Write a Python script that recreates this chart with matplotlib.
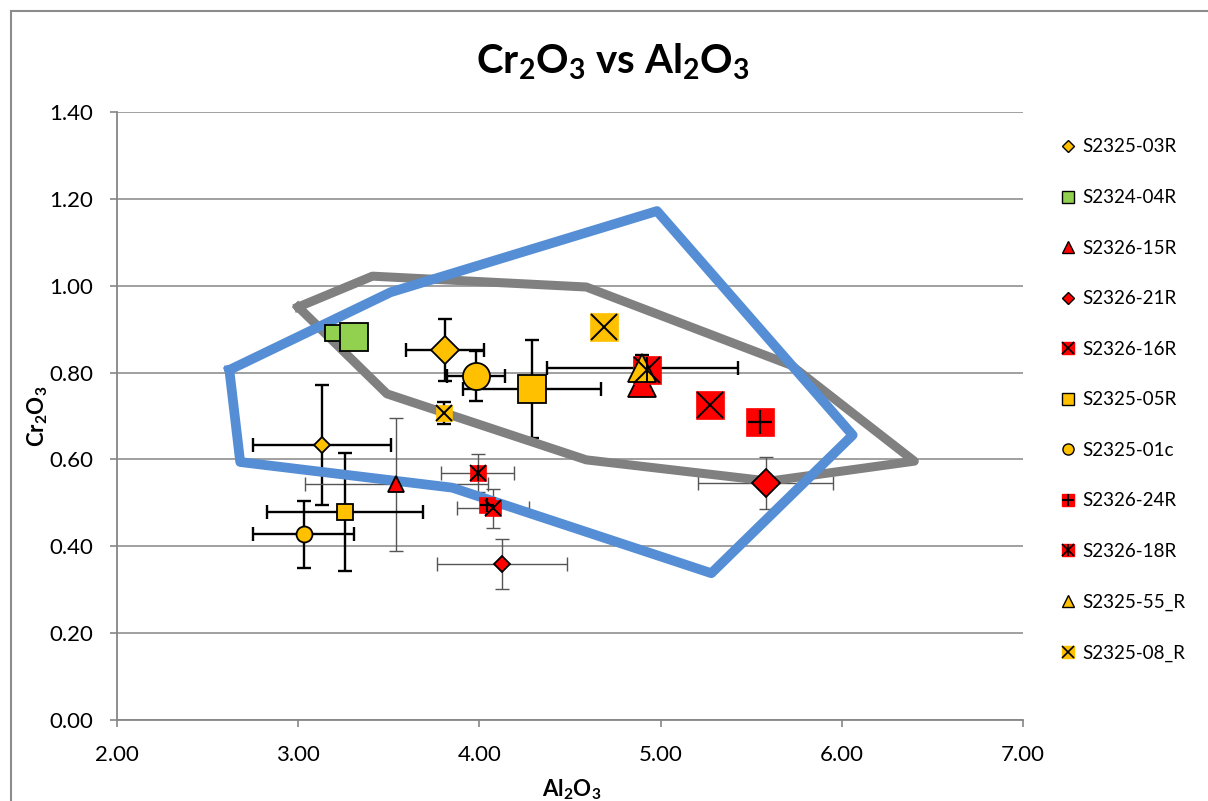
import numpy as np
import matplotlib
matplotlib.use('Agg')
import matplotlib.pyplot as plt
from matplotlib.lines import Line2D

plt.rcParams['font.family'] = ['Lato', 'DejaVu Sans']

series_names = ['S2325-03R', 'S2324-04R', 'S2326-15R', 'S2326-21R', 'S2326-16R',
                'S2325-05R', 'S2325-01c', 'S2326-24R', 'S2326-18R', 'S2325-55_R',
                'S2325-08_R']

# single analyses (small markers) with error bars
small_x = [3.13, 3.19, 3.54, 4.125, 4.075, 3.26, 3.03, 4.04, 3.99, np.nan, 3.805]
small_y = [0.633, 0.891, 0.543, 0.359, 0.488, 0.479, 0.428, 0.495, 0.569, np.nan, 0.707]
small_xerr = [0.38, 0.0, 0.505, 0.36, 0.20, 0.43, 0.28, 0.0, 0.20, 0.0, 0.0]
small_yerr = [0.138, 0.0, 0.153, 0.058, 0.045, 0.135, 0.077, 0.0, 0.044, 0.0, 0.026]

# second set (large markers)
big_x = [3.81, 3.31, 4.90, 5.58, 5.27, 4.29, 3.98, 5.55, 4.925, 4.90, 4.69]
big_y = [0.852, 0.882, 0.775, 0.546, 0.725, 0.762, 0.792, 0.686, 0.806, 0.811, 0.905]
big_xerr = [0.215, 0.0, 0.0, 0.373, 0.0, 0.383, 0.16, 0.0, 0.0, 0.525, 0.0]
big_yerr = [0.071, 0.0, 0.0, 0.060, 0.0, 0.113, 0.057, 0.0, 0.0, 0.03, 0.0]

# outline fields
blue_x = [2.62, 2.68, 3.85, 5.28, 6.06, 4.98, 3.51, 2.62]
blue_y = [0.806, 0.594, 0.535, 0.338, 0.656, 1.172, 0.985, 0.806]
gray_x = [3.00, 3.41, 4.59, 5.72, 6.40, 5.60, 4.59, 3.49, 3.00]
gray_y = [0.951, 1.022, 0.997, 0.817, 0.596, 0.550, 0.599, 0.751, 0.951]

yellow = '#FFC000'
green = '#92D050'
red = '#FF0000'
markers = ['D', 's', '^', 'D', 's', 's', 'o', 's', 's', '^', 's']
colors = [yellow, green, red, red, red, yellow, yellow, red, red, yellow, yellow]
overlays = [None, None, None, None, 'x', None, None, '+', '*', None, 'x']
thin_err = [False, False, True, True, True, False, False, True, True, False, False]


def size_for(marker, base):
    if marker == 'D':
        return base * 0.71
    if marker == '^':
        return base * 1.05
    return base


def draw_marker(ax, x, y, i, base, z):
    m = markers[i]
    c = colors[i]
    ms = size_for(m, base)
    if overlays[i] is None:
        ax.plot(x, y, ls='none', marker=m, ms=ms, mfc=c, mec='black', mew=1.3, zorder=z)
        return
    ax.plot(x, y, ls='none', marker='s', ms=ms, mfc=c, mec=c, mew=0.5, zorder=z)
    if overlays[i] in ('x', '*'):
        ax.plot(x, y, ls='none', marker='x', ms=ms * 0.95, mec='black', mew=1.4, zorder=z + 0.1)
    if overlays[i] == '+':
        ax.plot(x, y, ls='none', marker='+', ms=ms * 0.85, mec='black', mew=1.6, zorder=z + 0.1)
    if overlays[i] == '*':
        ax.plot(x, y, ls='none', marker='|', ms=ms * 0.95, mec='black', mew=1.4, zorder=z + 0.1)


def draw_err(ax, x, y, xe, ye, thin):
    col = '#555555' if thin else 'black'
    lw = 1.0 if thin else 1.7
    if xe > 0:
        ax.errorbar(x, y, xerr=xe, fmt='none', ecolor=col, elinewidth=lw,
                    capsize=5, capthick=lw, zorder=2)
    if ye > 0:
        ax.errorbar(x, y, yerr=ye, fmt='none', ecolor=col, elinewidth=lw,
                    capsize=5, capthick=lw, zorder=2)


fig = plt.figure(figsize=(12.08, 8.01), dpi=100)
ax = fig.add_axes([117 / 1208, 81 / 801, 906 / 1208, 608 / 801])

ax.plot(gray_x, gray_y, color='#808080', lw=6.5, solid_joinstyle='round', zorder=3)
ax.plot(blue_x, blue_y, color='#558ED5', lw=7, solid_joinstyle='round', zorder=4)

for i in range(len(series_names)):
    if not np.isnan(small_x[i]):
        draw_err(ax, small_x[i], small_y[i], small_xerr[i], small_yerr[i], thin_err[i])
        draw_marker(ax, small_x[i], small_y[i], i, 11.5, 5)
    draw_err(ax, big_x[i], big_y[i], big_xerr[i], big_yerr[i], thin_err[i])
    draw_marker(ax, big_x[i], big_y[i], i, 19.5, 6)

ax.set_xlim(2, 7)
ax.set_ylim(0, 1.4)
ax.set_xticks(np.arange(2, 7.01, 1.0))
ax.set_yticks(np.arange(0, 1.401, 0.2))
ax.set_xticklabels(['%.2f' % v for v in np.arange(2, 7.01, 1.0)])
ax.set_yticklabels(['%.2f' % v for v in np.arange(0, 1.401, 0.2)])
ax.tick_params(axis='both', labelsize=16, color='#868686', length=5, width=1.2)
ax.tick_params(axis='x', pad=13)
ax.tick_params(axis='y', pad=12)
ax.grid(axis='y', color='#a0a0a0', lw=1.4, zorder=0)
ax.set_axisbelow(True)
for s in ['top', 'right']:
    ax.spines[s].set_visible(False)
for s in ['left', 'bottom']:
    ax.spines[s].set_color('#868686')
    ax.spines[s].set_linewidth(1.3)

fig.text(613 / 1208, 1 - 62 / 801, r'$\mathregular{Cr_2O_3}$ vs $\mathregular{Al_2O_3}$',
         ha='center', va='center', fontsize=29, fontweight='bold')
fig.text(38 / 1208, 1 - 416 / 801, r'$\mathregular{Cr_2O_3}$', rotation=90,
         ha='center', va='center', fontsize=16, fontweight='bold')
fig.text(572 / 1208, 1 - 790 / 801, r'$\mathregular{Al_2O_3}$',
         ha='center', va='center', fontsize=16, fontweight='bold')

# legend
handles = []
for i in range(len(series_names)):
    m = markers[i]
    ms = size_for(m, 8)
    if overlays[i] is None:
        h = Line2D([], [], ls='none', marker=m, ms=ms, mfc=colors[i], mec='black', mew=1.0)
    else:
        parts = [Line2D([], [], ls='none', marker='s', ms=ms, mfc=colors[i], mec=colors[i])]
        if overlays[i] in ('x', '*'):
            parts.append(Line2D([], [], ls='none', marker='x', ms=ms, mec='black', mew=1.2))
        if overlays[i] == '+':
            parts.append(Line2D([], [], ls='none', marker='+', ms=ms, mec='black', mew=1.4))
        if overlays[i] == '*':
            parts.append(Line2D([], [], ls='none', marker='|', ms=ms, mec='black', mew=1.2))
        h = tuple(parts)
    handles.append(h)

fig.legend(handles, series_names, loc='upper left', bbox_to_anchor=(1052 / 1208, 1 - 131 / 801),
           frameon=False, fontsize=13.5, labelspacing=1.79, handlelength=0.9,
           handletextpad=0.3, borderaxespad=0)

# chart area border
fig.add_artist(Line2D([10.5 / 1208, 10.5 / 1208], [0, 1 - 11 / 801], color='#8c8c8c', lw=1.5))
fig.add_artist(Line2D([10.5 / 1208, 1], [1 - 11 / 801, 1 - 11 / 801], color='#8c8c8c', lw=1.5))

fig.savefig('out.png', dpi=100)
